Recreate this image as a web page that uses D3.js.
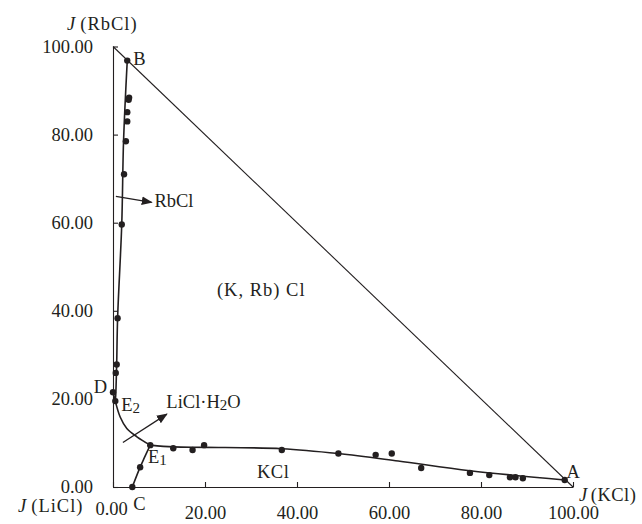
<!DOCTYPE html>
<html>
<head>
<meta charset="utf-8">
<script src="https://cdn.jsdelivr.net/npm/d3@7"></script>
<style>
  body { margin: 0; background: #fff; }
  svg text { font-family: "Liberation Serif", "Times New Roman", serif; fill: #231f20; }
</style>
</head>
<body>
<svg id="chart" width="642" height="524"></svg>
<script>
// experimental points, J(KCl) / J(RbCl)
const pointsKCl = [3.1, 3.5, 3.4, 3.1, 3.1, 2.8, 2.4, 1.9, 1.0, 0.8, 0.6, 0, 0.5,
  8.1, 13.1, 17.3, 19.8, 5.9, 4.2, 36.7, 49.0, 57.1, 60.6, 67.0, 77.6, 81.8, 86.3, 87.5, 89.1, 98.2];
const pointsRbCl = [96.8, 88.4, 87.9, 85.1, 83.0, 78.5, 71.0, 59.6, 38.3, 27.8, 25.9, 21.5, 19.5,
  9.5, 8.8, 8.4, 9.5, 4.5, 0, 8.4, 7.6, 7.3, 7.6, 4.3, 3.2, 2.7, 2.2, 2.2, 2.0, 1.6];

// univariant curves
const curveRbCl = [[3.1, 96.8], [2.3, 78.7], [1.9, 59.6], [1.0, 38.3], [0.8, 28.0], [0.6, 21.0], [0.5, 19.5]];
const curveLiCl = [[0.5, 19.5], [1.56, 15.9], [3.0, 13.3], [5.2, 11.4], [8.1, 9.5]];
const curveKCl = [[8.1, 9.5], [13.1, 9.1], [20, 9.0], [36.7, 8.7], [49, 7.6], [62, 5.9], [77.6, 3.7], [98.2, 1.6]];
const curveE1C = [[8.1, 9.5], [6.8, 6.6], [5.9, 4.5], [4.2, 0]];
const curveDE2 = [[0, 21.5], [0.5, 19.5]];

const xTicks = [0, 20, 40, 60, 80, 100];
const yTicks = [0, 20, 40, 60, 80, 100];

// annotation arrows [from, to]
const arrows = [
  [[0.63, 66.0], [8.4, 64.6]],
  [[2.15, 10.1], [11.7, 16.55]]
];

const ink = "#231f20";
const svg = d3.select("#chart");
const margin = {left: 113, top: 46.5, right: 69, bottom: 37};
const W = 642, H = 524;

const x = d3.scaleLinear().domain([0, 100]).range([margin.left, W - margin.right]);
const y = d3.scaleLinear().domain([0, 100]).range([H - margin.bottom, margin.top]);
const fmt = d3.format(".2f");

// arrow head
svg.append("defs").append("marker")
    .attr("id", "head")
    .attr("viewBox", "0 0 10 10")
    .attr("refX", 9).attr("refY", 5)
    .attr("markerWidth", 11).attr("markerHeight", 11)
    .attr("markerUnits", "userSpaceOnUse")
    .attr("orient", "auto")
  .append("path")
    .attr("d", "M0,1 L10,5 L0,9 Z")
    .attr("fill", ink);

// axes
const xAxis = svg.append("g")
    .attr("transform", "translate(0," + y(0) + ")")
    .call(d3.axisBottom(x).tickValues(xTicks).tickFormat(fmt)
      .tickSizeInner(-5).tickSizeOuter(0).tickPadding(19));
const yAxis = svg.append("g")
    .attr("transform", "translate(" + x(0) + ",0)")
    .call(d3.axisLeft(y).tickValues(yTicks).tickFormat(fmt)
      .tickSizeInner(-5).tickSizeOuter(0).tickPadding(20));

[xAxis, yAxis].forEach(function(g) {
  g.attr("font-family", null).attr("font-size", null);
  g.selectAll("path, line").attr("stroke", ink).attr("stroke-width", 1.1);
  g.selectAll("text").style("font-size", "18.5px");
});
// the origin label on the x axis sits a little higher
xAxis.selectAll(".tick text").filter(function(d) { return d === 0; })
    .attr("dx", "-0.1em").attr("dy", "0.5em");

// hypotenuse
svg.append("line")
    .attr("x1", x(0)).attr("y1", y(100))
    .attr("x2", x(100)).attr("y2", y(0))
    .attr("stroke", ink).attr("stroke-width", 1.1);

// curves
const line = d3.line()
    .x(function(d) { return x(d[0]); })
    .y(function(d) { return y(d[1]); })
    .curve(d3.curveCatmullRom.alpha(0.5));

[curveRbCl, curveLiCl, curveKCl, curveE1C, curveDE2].forEach(function(c) {
  svg.append("path")
      .attr("d", line(c))
      .attr("fill", "none")
      .attr("stroke", ink)
      .attr("stroke-width", 1.6);
});

// points
svg.append("g").selectAll("circle")
    .data(pointsKCl)
    .enter()
    .append("circle")
    .attr("cx", function(d) { return x(d); })
    .attr("cy", function(d, i) { return y(pointsRbCl[i]); })
    .attr("r", 3.2)
    .attr("fill", ink);

// arrows
svg.append("g").selectAll("line")
    .data(arrows)
    .enter()
    .append("line")
    .attr("x1", function(d) { return x(d[0][0]); })
    .attr("y1", function(d) { return y(d[0][1]); })
    .attr("x2", function(d) { return x(d[1][0]); })
    .attr("y2", function(d) { return y(d[1][1]); })
    .attr("stroke", ink)
    .attr("stroke-width", 1.3)
    .attr("marker-end", "url(#head)");

// text labels
function label(tx, ty, parts, anchor) {
  const t = svg.append("text")
      .attr("x", tx).attr("y", ty)
      .attr("text-anchor", anchor || "start")
      .style("font-size", "18.5px");
  parts.forEach(function(p) {
    const s = t.append("tspan").text(p.t);
    if (p.italic) s.style("font-style", "italic");
    if (p.sub) s.style("font-size", "15px").attr("dy", "2");
    if (p.up) s.attr("dy", "-2");
    if (p.dx) s.attr("dx", p.dx);
  });
  return t;
}

label(x(0) - 46, 30, [{t: "J", italic: true}, {t: "(RbCl)", dx: 4}]).style("letter-spacing", "1px");
label(x(0) - 95, 512, [{t: "J", italic: true}, {t: "(LiCl)", dx: 4}]).style("letter-spacing", "1px");
label(x(100) + 6, 501, [{t: "J", italic: true}, {t: "(KCl)", dx: 3}]).style("letter-spacing", "0.5px");

label(x(4.4), y(95.9), [{t: "B"}]);
label(x(-1.3), y(21.3), [{t: "D"}], "end");
label(x(1.8), y(17.2), [{t: "E"}, {t: "2", sub: true}]);
label(x(7.6), y(5.4), [{t: "E"}, {t: "1", sub: true}]);
label(x(4.4), y(-5.2), [{t: "C"}]);
label(x(98.6), y(2.0), [{t: "A"}]);

label(x(9.0), y(63.5), [{t: "RbCl"}]);
label(x(11.6), y(18.0), [{t: "LiCl·H"}, {t: "2", sub: true}, {t: "O", up: true}]);
label(x(22.6), y(43.4), [{t: "(K, Rb) Cl"}]).style("letter-spacing", "1px");
label(x(31.3), y(2.0), [{t: "KCl"}]).style("letter-spacing", "0.5px");
</script>
</body>
</html>
